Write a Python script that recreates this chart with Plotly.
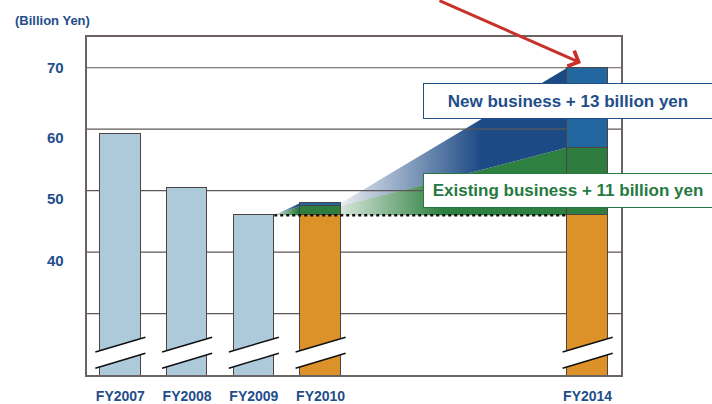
import plotly.graph_objects as go

# ---- data -------------------------------------------------------------
years = [2007, 2008, 2009, 2010, 2014]
year_labels = ["FY2007", "FY2008", "FY2009", "FY2010", "FY2014"]

actual = [59.2, 50.4, 46.0, None, None]          # past results
base_level = [None, None, None, 46.0, 46.0]      # FY2009 level carried forward
existing_gain = [None, None, None, 1.5, 11.0]    # existing business growth
new_gain = [None, None, None, 0.5, 13.0]         # new business growth

grid_values = [30, 40, 50, 60, 70]
y_label_values = [40, 50, 60, 70]
unit_label = "(Billion Yen)"
box_texts = ["New business + 13 billion yen", "Existing business + 11 billion yen"]

# ---- style ------------------------------------------------------------
FONT = "Liberation Sans, Arial, sans-serif"
NAVY = "#1f4e8a"
TEXT_GREEN = "#257a40"
LIGHT_BLUE = "#adcadb"
ORANGE = "#dc9229"
GREEN = "#2e7d3e"
BLUE = "#2367a0"
OUTLINE = "#4b4444"
FRAME = "#6b6361"
GRID = "#5e5654"
X_RANGE = [2006.5, 2014.5]
Y_RANGE = [20, 75]
BAR_W = 0.61

fig = go.Figure()

# ---- connector wedges (drawn first, behind grid and bars) ------------
i09, i10, i14 = years.index(2009), years.index(2010), years.index(2014)
lv10 = [base_level[i10], base_level[i10] + existing_gain[i10],
        base_level[i10] + existing_gain[i10] + new_gain[i10]]
lv14 = [base_level[i14], base_level[i14] + existing_gain[i14],
        base_level[i14] + existing_gain[i14] + new_gain[i14]]
lv09 = actual[i09]

x09r = years[i09] + BAR_W / 2
x10l = years[i10] - BAR_W / 2
x10r = years[i10] + BAR_W / 2
x14l = years[i14] - BAR_W / 2


def gradient(rgb, start_alpha, full_at):
    r, g, b = rgb
    return dict(type="horizontal",
                colorscale=[[0, f"rgba({r},{g},{b},{start_alpha})"],
                            [full_at, f"rgb({r},{g},{b})"],
                            [1, f"rgb({r},{g},{b})"]])


WEDGE_GREEN = (46, 128, 64)
WEDGE_BLUE = (29, 74, 133)

wedges = [
    # FY2009 -> FY2010
    ([x09r, x10l, x10l, x09r], [lv09, lv10[1], lv10[0], lv09], WEDGE_GREEN, 0.2, 0.9),
    ([x09r, x10l, x10l, x09r], [lv09, lv10[2], lv10[1], lv09], WEDGE_BLUE, 0.2, 0.9),
    # FY2010 -> FY2014
    ([x10r, x10r, x14l, x14l, x10r], [lv10[0], lv10[1], lv14[1], lv14[0], lv10[0]],
     WEDGE_GREEN, 0.2, 0.45),
    ([x10r, x10r, x14l, x14l, x10r], [lv10[1], lv10[2], lv14[2], lv14[1], lv10[1]],
     WEDGE_BLUE, 0.1, 0.62),
]
for xs, ys, rgb, a0, full in wedges:
    fig.add_trace(go.Scatter(x=xs, y=ys, mode="lines", fill="toself",
                             fillgradient=gradient(rgb, a0, full),
                             line=dict(width=0), hoverinfo="skip",
                             showlegend=False))

# ---- horizontal grid lines (over the wedges) --------------------------
for v in grid_values:
    fig.add_trace(go.Scatter(x=X_RANGE, y=[v, v], mode="lines",
                             line=dict(color=GRID, width=1.2),
                             hoverinfo="skip", showlegend=False))

# ---- bars on an overlaid subplot so they sit above the grid ----------
bar_common = dict(xaxis="x2", yaxis="y2", width=BAR_W, showlegend=False)
fig.add_trace(go.Bar(x=years, y=actual, name="Results",
                     marker=dict(color=LIGHT_BLUE, line=dict(color=OUTLINE, width=1)),
                     **bar_common))
fig.add_trace(go.Bar(x=years, y=base_level, name="Base",
                     marker=dict(color=ORANGE, line=dict(color=OUTLINE, width=1)),
                     **bar_common))
fig.add_trace(go.Bar(x=years, y=existing_gain, name="Existing business",
                     marker=dict(color=GREEN, line=dict(color=OUTLINE, width=1)),
                     **bar_common))
fig.add_trace(go.Bar(x=years, y=new_gain, name="New business",
                     marker=dict(color=BLUE, line=dict(color=OUTLINE, width=1)),
                     **bar_common))

# dotted FY2009 reference level
fig.add_trace(go.Scatter(x=[x09r, x14l], y=[lv09, lv09], mode="lines",
                         xaxis="x2", yaxis="y2",
                         line=dict(color="#111111", width=2.5, dash="dot"),
                         hoverinfo="skip", showlegend=False))

# ---- axis-break bands across the bottom of every bar ------------------
shapes = []
half = 0.375
for x in years:
    xl, xr = x - half, x + half
    bl, tl, br, tr = 21.1, 23.75, 23.55, 26.15
    shapes.append(dict(type="path", xref="x", yref="y", layer="above",
                       path=f"M{xl},{bl} L{xl},{tl} L{xr},{tr} L{xr},{br} Z",
                       fillcolor="white", line=dict(width=0)))
    for y0, y1 in [(tl, tr), (bl, br)]:
        shapes.append(dict(type="line", xref="x", yref="y", layer="above",
                           x0=xl, y0=y0, x1=xr, y1=y1,
                           line=dict(color="#111111", width=1.5)))

# ---- annotations ------------------------------------------------------
annotations = []
for v in y_label_values:
    annotations.append(dict(x=0, xref="paper", y=v, yref="y", text=str(v),
                            showarrow=False, xanchor="right", yanchor="middle",
                            xshift=-21, yshift=0 if v == 70 else -8,
                            font=dict(family=FONT, size=15, color=NAVY, weight="bold")))

annotations.append(dict(x=-0.139, xref="paper", y=1.05, yref="paper", text=unit_label,
                        showarrow=False, xanchor="left", yanchor="middle",
                        font=dict(family=FONT, size=13, color=NAVY, weight="bold")))

for text, yc, color, h in [(box_texts[0], 0.8107, NAVY, 34),
                           (box_texts[1], 0.5459, TEXT_GREEN, 33)]:
    annotations.append(dict(x=0.9007, xref="paper", y=yc, yref="paper", text=text,
                            showarrow=False, xanchor="center", yanchor="middle",
                            width=288, height=h, align="center", valign="middle",
                            bgcolor="white", bordercolor=color, borderwidth=1,
                            borderpad=0,
                            font=dict(family=FONT, size=17, color=color, weight="bold")))

# red pointer to the FY2014 total
annotations.append(dict(x=0.9251, xref="paper", y=0.9231, yref="paper", text="",
                        showarrow=True, arrowhead=4, arrowsize=1.1, arrowwidth=3,
                        arrowcolor="#c8302a", ax=-143, ay=-66))

axis_frame = dict(showline=True, mirror=True, linecolor=FRAME, linewidth=1.5,
                  zeroline=False, showgrid=False, automargin=False)

fig.update_layout(
    width=712, height=404,
    margin=dict(l=87, r=91, t=37, b=29),
    paper_bgcolor="white", plot_bgcolor="white",
    barmode="stack", bargap=0,
    font=dict(family=FONT),
    xaxis=dict(range=X_RANGE, tickvals=years, ticktext=year_labels, ticks="",
               ticklabelstandoff=7,
               tickfont=dict(family=FONT, size=14, color=NAVY, weight="bold"),
               **axis_frame),
    yaxis=dict(range=Y_RANGE, showticklabels=False, ticks="", **axis_frame),
    xaxis2=dict(range=X_RANGE, overlaying="x", visible=False),
    yaxis2=dict(range=Y_RANGE, overlaying="y", visible=False),
    shapes=shapes,
    annotations=annotations,
    hovermode=False,
)

fig.write_html("out.html")
